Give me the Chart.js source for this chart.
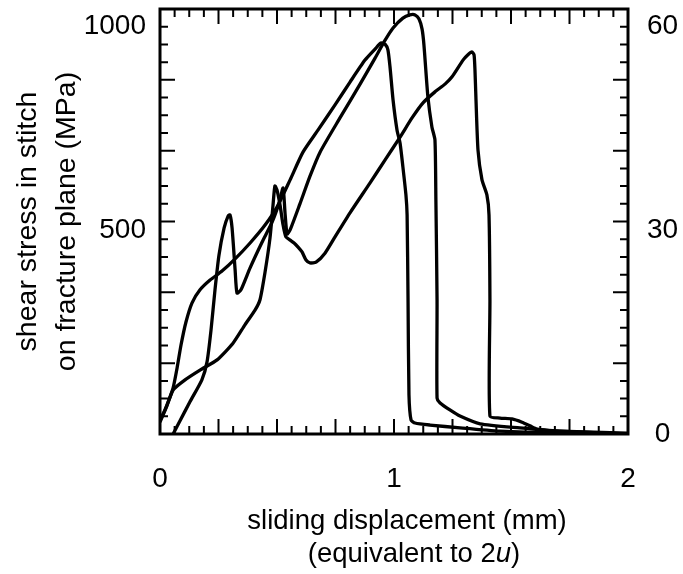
<!DOCTYPE html>
<html><head><meta charset="utf-8">
<script src="https://cdn.jsdelivr.net/npm/chart.js@4.4.1/dist/chart.umd.min.js"></script>
<style>html,body{margin:0;padding:0;background:#fff;}</style>
</head><body>
<canvas id="c" width="683" height="574"></canvas>
<script>
// Curve peaking near 0.95 mm
const curveAX = [0,0.021,0.038,0.056,0.073,0.090,0.111,0.137,0.171,0.214,0.265,0.321,0.385,0.449,0.5,0.556,0.611,0.675,0.748,0.812,0.876,0.919,0.944,0.962,0.974,0.983,0.996,1.013,1.026,1.038,1.051,1.056,1.06,1.064,1.073,1.09,1.154,1.282,1.453,1.709,1.996];
const curveAY = [34,59,83,113,162,219,275,322,354,378,400,430,469,513,557,624,692,746,808,864,918,945,960,957,943,901,820,746,714,656,587,538,329,96,34,27,22,15,7,2,0];
// Curve peaking near 1.08 mm
const curveCX = [0.056,0.085,0.128,0.179,0.201,0.218,0.235,0.252,0.274,0.291,0.299,0.308,0.321,0.329,0.346,0.385,0.436,0.479,0.509,0.526,0.534,0.543,0.556,0.598,0.641,0.684,0.769,0.855,0.919,0.962,0.996,1.038,1.068,1.09,1.107,1.12,1.128,1.145,1.162,1.175,1.179,1.184,1.184,1.197,1.239,1.282,1.368,1.538,1.709,1.996];
const curveCY = [0,32,79,133,177,255,354,439,506,535,538,506,403,346,354,408,471,520,567,604,545,491,501,565,633,692,776,859,923,967,997,1021,1029,1029,1019,994,955,827,754,722,575,329,88,76,59,44,25,15,7,0];
// Curve peaking near 1.33 mm
const curveBX = [0,0.026,0.056,0.107,0.171,0.244,0.312,0.363,0.406,0.427,0.449,0.47,0.483,0.491,0.5,0.513,0.526,0.538,0.556,0.573,0.59,0.607,0.624,0.641,0.667,0.705,0.748,0.812,0.897,0.962,1.026,1.077,1.124,1.175,1.218,1.248,1.295,1.316,1.333,1.342,1.346,1.35,1.359,1.376,1.397,1.406,1.41,1.41,1.453,1.504,1.547,1.581,1.611,1.709,1.996];
const curveBY = [29,64,108,133,157,182,223,268,304,329,398,481,562,609,599,562,513,484,476,469,459,447,427,420,422,444,484,543,616,673,729,776,813,840,859,877,918,931,938,931,894,827,697,624,587,538,329,44,39,37,29,20,12,7,2];

const xTickValues = [0, 1, 2];
const leftTickValues = [500, 1000];
const rightTickValues = [0, 30, 60];
const yMax = 1043.48;
const y2Max = 62.61;
const yMinorStep = 1000 / 23;
const xMinorStep = 0.0625;
const xTitleLine1 = 'sliding displacement (mm)';
const xTitleLine2 = ['(equivalent to 2', 'u', ')'];
const yTitleLines = ['shear stress in stitch', 'on fracture plane (MPa)'];

const FONT = '"Liberation Sans", Arial, Helvetica, sans-serif';

function pts(xs, ys) { return xs.map((x, i) => ({x: x, y: ys[i]})); }

const framePlugin = {
  id: 'frame',
  afterDatasetsDraw(chart) {
    const {ctx, chartArea: a, scales} = chart;
    const x = scales.x, y = scales.y;
    ctx.save();
    ctx.strokeStyle = '#000';
    ctx.lineWidth = 2;
    ctx.beginPath();
    for (let k = 0; k * yMinorStep <= yMax + 1e-6; k++) {
      const py = y.getPixelForValue(k * yMinorStep);
      const len = (k % 4 === 0) ? 15 : 8;
      ctx.moveTo(a.left, py); ctx.lineTo(a.left + len, py);
      ctx.moveTo(a.right, py); ctx.lineTo(a.right - len, py);
    }
    for (let k = 0; k <= 32; k++) {
      const px = x.getPixelForValue(k * xMinorStep);
      const len = (k % 4 === 0) ? 15 : 8;
      ctx.moveTo(px, a.bottom); ctx.lineTo(px, a.bottom - len);
      ctx.moveTo(px, a.top); ctx.lineTo(px, a.top + len);
    }
    ctx.stroke();
    ctx.lineWidth = 3;
    ctx.strokeRect(a.left, a.top, a.right - a.left, a.bottom - a.top);

    // x axis title (two lines, italic u)
    ctx.fillStyle = '#000';
    ctx.textBaseline = 'alphabetic';
    ctx.textAlign = 'center';
    const cx = (a.left + a.right) / 2;
    ctx.font = '27.5px ' + FONT;
    ctx.fillText(xTitleLine1, cx + 13, a.bottom + 95);
    ctx.textAlign = 'left';
    const fN = '27.5px ' + FONT, fI = 'italic 27.5px ' + FONT;
    ctx.font = fN; const w1 = ctx.measureText(xTitleLine2[0]).width;
    ctx.font = fI; const w2 = ctx.measureText(xTitleLine2[1]).width;
    ctx.font = fN; const w3 = ctx.measureText(xTitleLine2[2]).width;
    let sx = cx + 20 - (w1 + w2 + w3) / 2;
    const by = a.bottom + 128;
    ctx.font = fN; ctx.fillText(xTitleLine2[0], sx, by); sx += w1;
    ctx.font = fI; ctx.fillText(xTitleLine2[1], sx, by); sx += w2;
    ctx.font = fN; ctx.fillText(xTitleLine2[2], sx, by);
    ctx.restore();
  }
};

const lineStyle = {borderColor: '#000', borderWidth: 3.3, pointRadius: 0, showLine: true, tension: 0.2, fill: false};

new Chart(document.getElementById('c'), {
  type: 'scatter',
  data: {
    datasets: [
      Object.assign({label: 'test 1', data: pts(curveAX, curveAY)}, lineStyle),
      Object.assign({label: 'test 2', data: pts(curveCX, curveCY)}, lineStyle),
      Object.assign({label: 'test 3', data: pts(curveBX, curveBY)}, lineStyle)
    ]
  },
  options: {
    responsive: false,
    animation: false,
    devicePixelRatio: 1,
    layout: {padding: {top: 9, left: 0, right: 0, bottom: 0}, autoPadding: false},
    plugins: {legend: {display: false}, tooltip: {enabled: false}},
    scales: {
      x: {
        type: 'linear', position: 'bottom', min: 0, max: 2,
        afterBuildTicks: s => { s.ticks = xTickValues.map(v => ({value: v})); },
        afterFit: s => { s.height = 140; s.paddingLeft = 0; s.paddingRight = 0; },
        grid: {display: false, drawTicks: false},
        border: {display: false},
        ticks: {color: '#000', font: {family: FONT, size: 28}, padding: 28, maxRotation: 0, autoSkip: false,
                callback: v => String(v)}
      },
      y: {
        type: 'linear', position: 'left', min: 0, max: yMax,
        afterBuildTicks: s => { s.ticks = leftTickValues.map(v => ({value: v})); },
        afterFit: s => { s.width = 160; s.paddingTop = 0; s.paddingBottom = 0; },
        grid: {display: false, drawTicks: false},
        border: {display: false},
        ticks: {color: '#000', font: {family: FONT, size: 28}, padding: 14, autoSkip: false,
                callback: v => String(v)},
        title: {display: true, text: yTitleLines, color: '#000',
                font: {family: FONT, size: 28.5, lineHeight: 1.35}, padding: {top: 9, bottom: 0}}
      },
      y2: {
        type: 'linear', position: 'right', min: 0, max: y2Max,
        afterBuildTicks: s => { s.ticks = rightTickValues.map(v => ({value: v})); },
        afterFit: s => { s.width = 55; s.paddingTop = 0; s.paddingBottom = 0; },
        grid: {display: false, drawTicks: false},
        border: {display: false},
        ticks: {color: '#000', font: {family: FONT, size: 28}, padding: 19, crossAlign: 'center', autoSkip: false,
                callback: v => String(v)}
      }
    }
  },
  plugins: [framePlugin]
});
</script>
</body></html>
